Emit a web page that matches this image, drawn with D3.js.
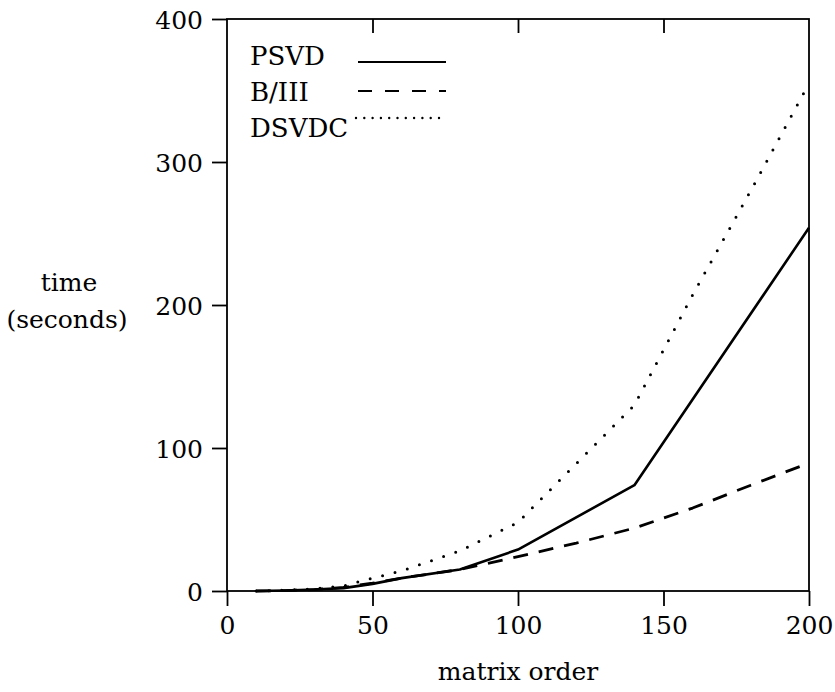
<!DOCTYPE html>
<html>
<head>
<meta charset="utf-8">
<script src="https://cdn.jsdelivr.net/npm/d3@7"></script>
<style>
  html, body { margin: 0; padding: 0; background: #fff; }
  svg { display: block; }
  text { font-family: "DejaVu Serif", "Liberation Serif", serif; fill: #000; }
</style>
</head>
<body>
<svg id="chart" width="835" height="692"></svg>
<script>
// ---- data ----
const psvdX  = [10, 20, 30, 40, 50, 60, 80, 100, 140, 200];
const psvdY  = [0, 0.3, 1, 2, 5, 9, 15, 29, 74, 254];
const b3X    = [10, 20, 30, 40, 50, 60, 80, 100, 120, 140, 160, 180, 200];
const b3Y    = [0, 0.3, 1, 2.5, 5.5, 9, 15, 24, 33.5, 44, 58, 74, 89.5];
const dsvdcX = [10, 20, 30, 40, 50, 60, 80, 100, 120, 140, 160, 180, 200];
const dsvdcY = [0, 0.5, 1.5, 3.5, 9, 14, 28, 48, 89, 130, 207, 280, 355];
const seriesNames = ["PSVD", "B/III", "DSVDC"];
const xTicks = [0, 50, 100, 150, 200];
const xTopTicks = [50, 100, 150];
const yTicks = [0, 100, 200, 300, 400];
const xLabel = "matrix order";
const yLabelLines = ["time", "(seconds)"];

// ---- layout ----
const L = 227, R = 809, T = 19, B = 591;
const svg = d3.select("#chart");
const x = d3.scaleLinear().domain([0, 200]).range([L, R]);
const y = d3.scaleLinear().domain([0, 400]).range([B, T]);
const FS = 25;

// frame
svg.append("rect").attr("x", L).attr("y", T).attr("width", R - L).attr("height", B - T)
  .attr("fill", "none").attr("stroke", "#000").attr("stroke-width", 1.8);

// left axis
const gy = svg.append("g").attr("transform", `translate(${L},0)`)
  .call(d3.axisLeft(y).tickValues(yTicks).tickSize(15).tickSizeOuter(0).tickPadding(9).tickFormat(d3.format("d")));
gy.select(".domain").remove();
gy.selectAll(".tick line").attr("stroke-width", 1.8);
gy.selectAll(".tick text").style("font-size", FS + "px").attr("dy", "0.36em");

// bottom axis
const gx = svg.append("g").attr("transform", `translate(0,${B})`)
  .call(d3.axisBottom(x).tickValues(xTicks).tickSize(15).tickSizeOuter(0).tickPadding(10).tickFormat(d3.format("d")));
gx.select(".domain").remove();
gx.selectAll(".tick line").attr("stroke-width", 1.8);
gx.selectAll(".tick text").style("font-size", FS + "px");

// top axis (inward ticks, no labels)
const gt = svg.append("g").attr("transform", `translate(0,${T})`)
  .call(d3.axisBottom(x).tickValues(xTopTicks).tickSize(14).tickSizeOuter(0).tickFormat(""));
gt.select(".domain").remove();
gt.selectAll(".tick line").attr("stroke-width", 1.8);

// axis titles
svg.append("text").attr("x", (L + R) / 2).attr("y", 680).attr("text-anchor", "middle")
  .style("font-size", FS + "px").text(xLabel);
svg.append("text").attr("x", 69).attr("y", 291).attr("text-anchor", "middle")
  .style("font-size", FS + "px").text(yLabelLines[0]);
svg.append("text").attr("x", 67).attr("y", 328).attr("text-anchor", "middle")
  .style("font-size", FS + "px").text(yLabelLines[1]);

// lines
const line = d3.line().x(d => x(d[0])).y(d => y(d[1]));
const styles = [
  { w: 2.6, dash: null, cap: "butt" },
  { w: 2.8, dash: "15,11", cap: "butt" },
  { w: 3.0, dash: "0,12.8", cap: "round" }
];
const allSeries = [
  d3.zip(psvdX, psvdY),
  d3.zip(b3X, b3Y),
  d3.zip(dsvdcX, dsvdcY)
];
allSeries.forEach((s, i) => {
  svg.append("path").datum(s).attr("d", line)
    .attr("fill", "none").attr("stroke", "#000")
    .attr("stroke-width", styles[i].w)
    .attr("stroke-linecap", styles[i].cap)
    .attr("stroke-linejoin", "round")
    .attr("stroke-dasharray", styles[i].dash);
});

// legend
const legText = [65, 101, 137];
const legLineY = [62, 91, 118];
const legLineX0 = [358, 358, 356];
const legStyles = [
  { w: 2.2, dash: null, cap: "butt" },
  { w: 2.2, dash: "14,13", cap: "butt" },
  { w: 2.4, dash: "0,8.3", cap: "round" }
];
seriesNames.forEach((n, i) => {
  svg.append("text").attr("x", 250).attr("y", legText[i]).style("font-size", "26px").text(n);
  svg.append("line").attr("x1", legLineX0[i]).attr("x2", 446).attr("y1", legLineY[i]).attr("y2", legLineY[i])
    .attr("stroke", "#000").attr("stroke-width", legStyles[i].w)
    .attr("stroke-linecap", legStyles[i].cap)
    .attr("stroke-dasharray", legStyles[i].dash);
});
</script>
</body>
</html>
